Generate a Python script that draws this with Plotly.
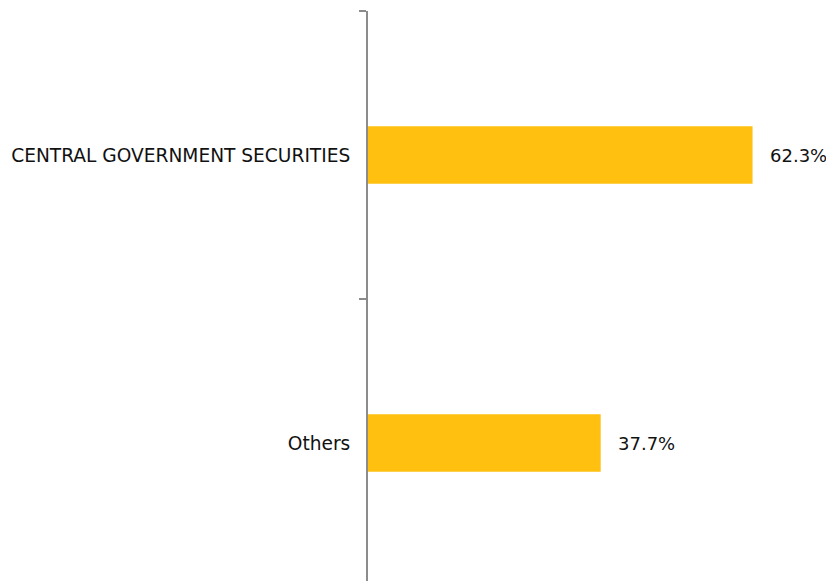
import plotly.graph_objects as go

categories = ["CENTRAL GOVERNMENT SECURITIES", "Others"]
values = [62.3, 37.7]
value_labels = ["62.3%", "37.7%"]

BAR_COLOR = "#FFC010"
AXIS_COLOR = "#8C8C8C"
FONT = "DejaVu Sans, sans-serif"

fig = go.Figure()
fig.add_trace(go.Bar(
    x=values, y=categories, orientation="h",
    marker=dict(color=BAR_COLOR, line=dict(width=0)),
    width=0.2, hoverinfo="skip",
))

for c, v, t in zip(categories, values, value_labels):
    fig.add_annotation(x=v, y=c, text=t, showarrow=False, xanchor="left",
                       xshift=15, font=dict(family=FONT, size=18, color="#111111"))

fig.update_layout(
    width=826, height=581,
    margin=dict(l=368, r=0, t=11, b=0),
    paper_bgcolor="white", plot_bgcolor="white",
    showlegend=False,
    font=dict(family=FONT, size=18.6, color="#111111"),
)
fig.update_xaxes(range=[0, 74.2], visible=False, showgrid=False, zeroline=False)
fig.update_yaxes(
    type="category", categoryorder="array", categoryarray=categories,
    range=[1.479, -0.5], tickson="boundaries",
    showline=True, linecolor=AXIS_COLOR, linewidth=2,
    ticks="outside", ticklen=7, tickwidth=2, tickcolor=AXIS_COLOR,
    showgrid=False, zeroline=False,
    tickfont=dict(family=FONT, size=18.6, color="#111111"),
    ticklabelstandoff=12,
)

fig.write_html("out.html", config={"displayModeBar": False},
               post_script="document.body.style.margin='0';document.body.style.overflow='hidden';")
